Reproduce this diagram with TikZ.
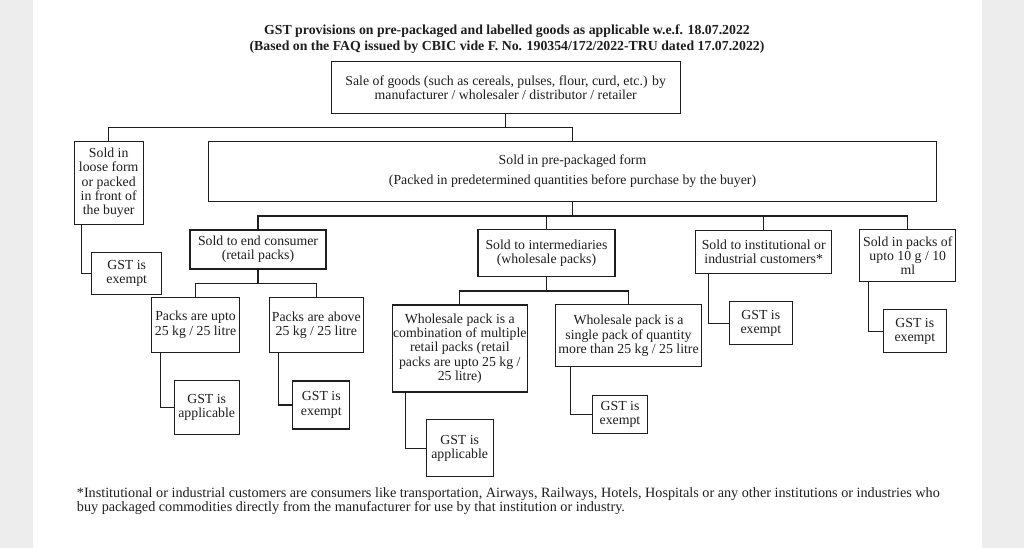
\documentclass[tikz,border=0pt]{standalone}
\usepackage{fontspec}
\setmainfont{Liberation Serif}
\newcommand\myfs{\fontsize{13.8}{14.3}\selectfont}
\newcommand\myfnfs{\fontsize{14.2}{14.3}\selectfont}
\definecolor{pagegray}{HTML}{EDEDED}
\definecolor{ink}{HTML}{1E1E1E}
\begin{document}
\begin{tikzpicture}[x=1pt,y=-1pt,
  box/.style={draw=ink, line width=1.05pt, inner sep=0pt, align=center, font=\myfs, text=ink},
  sz/.style 2 args={minimum width=#1pt, minimum height=#2pt},
  conn/.style={draw=ink, line width=1.05pt},
  plain/.style={font=\myfnfs, text=ink, inner sep=0pt},
  ttl/.style={font=\myfs\bfseries, text=ink, inner sep=0pt, anchor=base}]
\useasboundingbox (0,0) rectangle (1024,548);
\fill[pagegray] (0,0) rectangle (1024,548);
\fill[white] (33,0) rectangle (982,548);

% titles
\node[ttl] (t1) at (507,34.5) {GST provisions on pre-packaged and labelled goods as applicable w.e.f. 18.07.2022};
\node[ttl] (t2) at (507,50.2) {(Based on the FAQ issued by CBIC vide F. No. 190354/172/2022-TRU dated 17.07.2022)};

% boxes
\node[box, sz={349.3}{51.6}] (top) at (505.7,87.5) {Sale of goods (such as cereals, pulses, flour, curd, etc.) by\\manufacturer / wholesaler / distributor / retailer};
\node[box, sz={69.3}{82.6}] (loose) at (108.7,183) {Sold in\\loose form\\or packed\\in front of\\the buyer};
\node[box, sz={728.4}{59.8}] (prepack) at (572.5,171.6) {Sold in pre-packaged form\\[5.7pt](Packed in predetermined quantities before purchase by the buyer)};
\node[box, sz={70}{41.6}] (lgst) at (126.7,273.5) {GST is\\exempt};
\node[box, sz={136}{39}] (endc) at (258,249.5) {Sold to end consumer\\(retail packs)};
\node[box, sz={137}{46.7}] (inter) at (546.5,253.3) {Sold to intermediaries\\(wholesale packs)};
\node[box, sz={136}{43.3}] (inst) at (763.7,251.7) {Sold to institutional or\\industrial customers*};
\node[box, sz={95.7}{51.7}] (small) at (907.8,255.8) {Sold in packs of\\upto 10 g / 10\\ml};
\node[box, sz={87.6}{54.7}] (upto) at (195.5,324.7) {Packs are upto\\25 kg / 25 litre};
\node[box, sz={94}{55.4}] (above) at (316.3,325) {Packs are above\\25 kg / 25 litre};
\node[box, sz={134.5}{87}] (combo) at (459.8,348.5) {Wholesale pack is a\\combination of multiple\\retail packs (retail\\packs are upto 25 kg /\\25 litre)};
\node[box, sz={145.6}{61.7}] (single) at (628.5,335.8) {Wholesale pack is a\\single pack of quantity\\more than 25 kg / 25 litre};
\node[box, sz={65.3}{53.6}] (gupto) at (206.7,407.5) {GST is\\applicable};
\node[box, sz={57.3}{48}] (gabove) at (321.3,405) {GST is\\exempt};
\node[box, sz={67.3}{56.7}] (gcombo) at (459.7,448.3) {GST is\\applicable};
\node[box, sz={55.4}{38.3}] (gsingle) at (620,414.2) {GST is\\exempt};
\node[box, sz={63}{43.3}] (ginst) at (760.8,323.3) {GST is\\exempt};
\node[box, sz={63}{42.7}] (gsmall) at (914.8,331.3) {GST is\\exempt};

% bus levels
\coordinate (b1) at (0,127.3);
\coordinate (b2) at (0,216);
\coordinate (b3) at (0,283.3);
\coordinate (b4) at (0,291);

% tree connectors
\draw[conn] (top.south) -- (top.south |- b1);
\draw[conn] (loose.north) |- (b1 -| prepack.north) -- (prepack.north);
\draw[conn] (prepack.south) -- (prepack.south |- b2);
\draw[conn] (endc.north) |- (b2 -| small.north) -- (small.north);
\draw[conn] (inter.north) -- (inter.north |- b2);
\draw[conn] (inst.north) -- (inst.north |- b2);
\draw[conn] (endc.south) -- (endc.south |- b3);
\draw[conn] (upto.north) |- (b3 -| above.north) -- (above.north);
\draw[conn] (inter.south) -- (inter.south |- b4);
\draw[conn] (combo.north) |- (b4 -| single.north) -- (single.north);

% side connectors to outcome boxes
\draw[conn] ([xshift=7.7pt]loose.south west) |- (lgst.west);
\draw[conn] ([xshift=9.3pt]upto.south west) |- (gupto.west);
\draw[conn] ([xshift=9.7pt]above.south west) |- (gabove.west);
\draw[conn] ([xshift=13.2pt]combo.south west) |- (gcombo.west);
\draw[conn] ([xshift=15pt]single.south west) |- (gsingle.west);
\draw[conn] ([xshift=13.6pt]inst.south west) |- (ginst.west);
\draw[conn] ([xshift=9.3pt]small.south west) |- (gsmall.west);

% footnote
\node[plain, anchor=base west] (fn1) at (76.7,497) {*Institutional or industrial customers are consumers like transportation, Airways, Railways, Hotels, Hospitals or any other institutions or industries who};
\node[plain, anchor=base west] (fn2) at (76.7,511.3) {buy packaged commodities directly from the manufacturer for use by that institution or industry.};
\end{tikzpicture}
\end{document}
